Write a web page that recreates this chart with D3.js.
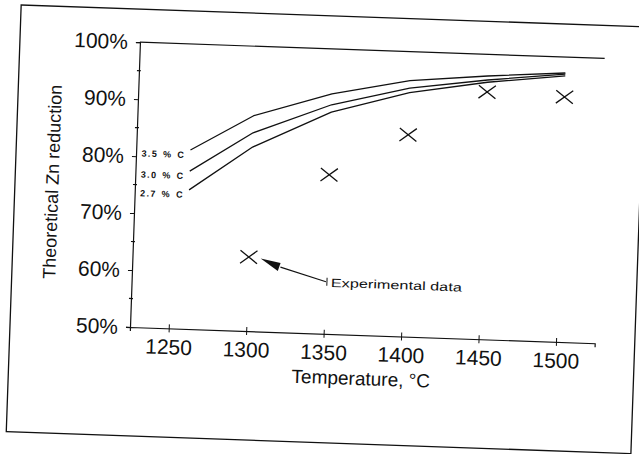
<!DOCTYPE html>
<html>
<head>
<meta charset="utf-8">
<script src="https://cdn.jsdelivr.net/npm/d3@7"></script>
<style>
  body { margin: 0; background: #fff; }
  svg { display: block; }
  text { font-family: "Liberation Sans", Arial, sans-serif; fill: #111; }
</style>
</head>
<body>
<div id="chart"></div>
<script>
// theoretical curves, one per carbon content
const temps = [1260, 1300, 1350, 1400, 1450, 1500];
const carbon35 = [81.4, 87.8, 92.1, 94.9, 96.2, 97.2];
const carbon30 = [77.7, 84.8, 90.2, 93.6, 95.5, 97.0];
const carbon27 = [74.4, 82.3, 88.9, 92.8, 95.1, 96.7];
const curveLabels = ["3.5 % C", "3.0 % C", "2.7 % C"];

// experimental points
const expTemps = [1300, 1350, 1400, 1450, 1500];
const expValues = [63.0, 77.9, 85.4, 93.4, 93.0];

const xTicks = [1250, 1300, 1350, 1400, 1450, 1500];
const yTicks = [50, 60, 70, 80, 90, 100];
const yMinorTicks = [55, 65, 75, 85, 95];

const width = 639, height = 454;
const ink = "#111";
const font = '"Liberation Sans", Arial, sans-serif';

const svg = d3.select("#chart").append("svg")
  .attr("width", width)
  .attr("height", height);

// the scanned page sits slightly tilted
const g = svg.append("g").attr("transform", "rotate(2, 130, 327)");

// outer frame of the figure
g.append("rect")
  .attr("x", 10).attr("y", 9)
  .attr("width", 625).attr("height", 427)
  .attr("fill", "none").attr("stroke", ink).attr("stroke-width", 1.3);

const x = d3.scaleLinear().domain([1225, 1525]).range([130, 595]);
const y = d3.scaleLinear().domain([50, 100]).range([327, 42]);

// x axis
const xAxis = g.append("g")
  .attr("transform", `translate(0,${y(50)})`)
  .call(d3.axisBottom(x).tickValues(xTicks).tickFormat(d3.format("d"))
    .tickSizeOuter(0).tickSize(4).tickPadding(7))
  .attr("color", ink)
  .attr("font-family", font)
  .attr("font-size", 21);
xAxis.select(".domain").attr("stroke-width", 1.2);
xAxis.selectAll(".tick line").attr("y1", -4).attr("y2", 4);

// y axis
const yAxis = g.append("g")
  .attr("transform", `translate(${x(1225)},0)`)
  .call(d3.axisLeft(y).tickValues(yTicks).tickFormat(d => d + "%")
    .tickSizeOuter(0).tickSize(4).tickPadding(8))
  .attr("color", ink)
  .attr("font-family", font)
  .attr("font-size", 21);
yAxis.select(".domain").attr("stroke-width", 1.2);
yAxis.selectAll(".tick line").attr("x1", 1);

// small marks between the labelled ticks
yAxis.selectAll(".minor")
  .data(yMinorTicks)
  .enter().append("line")
  .attr("class", "minor")
  .attr("x1", -2).attr("x2", 2)
  .attr("y1", d => y(d)).attr("y2", d => y(d))
  .attr("stroke", ink).attr("stroke-width", 1.2);

// top border of the plot (no right border)
g.append("line")
  .attr("x1", x(1225)).attr("x2", x(1525))
  .attr("y1", y(100)).attr("y2", y(100))
  .attr("stroke", ink).attr("stroke-width", 1.2);

// theoretical curves
const series = [carbon35, carbon30, carbon27];
const line = d3.line()
  .x(d => x(d[0]))
  .y(d => y(d[1]));

series.forEach((vals, i) => {
  const pts = temps.map((t, j) => [t, vals[j]]);
  g.append("path")
    .attr("d", line(pts))
    .attr("fill", "none")
    .attr("stroke", ink)
    .attr("stroke-width", 1.3)
    .attr("stroke-linejoin", "round");

  g.append("text")
    .attr("x", x(temps[0]) - 5)
    .attr("y", y(vals[0]) + 5)
    .attr("dy", "0.35em")
    .attr("text-anchor", "end")
    .attr("font-size", 9)
    .attr("font-weight", "bold")
    .attr("letter-spacing", 1.4)
    .attr("word-spacing", 1)
    .text(curveLabels[i]);
});

// experimental points as crosses
g.selectAll(".exp")
  .data(expTemps.map((t, i) => [t, expValues[i]]))
  .enter().append("path")
  .attr("class", "exp")
  .attr("transform", d => `translate(${x(d[0])},${y(d[1])})`)
  .attr("d", "M-8.5,-6.5L8.5,6.5M-8.5,6.5L8.5,-6.5")
  .attr("stroke", ink)
  .attr("stroke-width", 1.3)
  .attr("fill", "none");

// annotation pointing at the first experimental point
const ax = x(expTemps[0]), ay = y(expValues[0]);
const note = g.append("g").attr("transform", `translate(${ax},${ay})`);
note.append("path")
  .attr("d", "M12,1L32,5L29.5,13Z")
  .attr("fill", ink);
note.append("line")
  .attr("x1", 32).attr("y1", 9)
  .attr("x2", 78).attr("y2", 22)
  .attr("stroke", ink).attr("stroke-width", 1.1);
note.append("line")
  .attr("x1", 79).attr("y1", 18)
  .attr("x2", 79).attr("y2", 26)
  .attr("stroke", ink).attr("stroke-width", 1);
note.append("text")
  .attr("x", 83).attr("y", 27)
  .attr("font-size", 12)
  .attr("textLength", 131)
  .attr("lengthAdjust", "spacingAndGlyphs")
  .text("Experimental data");

// axis titles
g.append("text")
  .attr("x", (x(1225) + x(1525)) / 2)
  .attr("y", 377)
  .attr("text-anchor", "middle")
  .attr("font-size", 19)
  .text("Temperature, °C");

g.append("text")
  .attr("transform", `translate(53.5,${(y(50) + y(100)) / 2}) rotate(-90)`)
  .attr("text-anchor", "middle")
  .attr("font-size", 18)
  .text("Theoretical Zn reduction");
</script>
</body>
</html>
